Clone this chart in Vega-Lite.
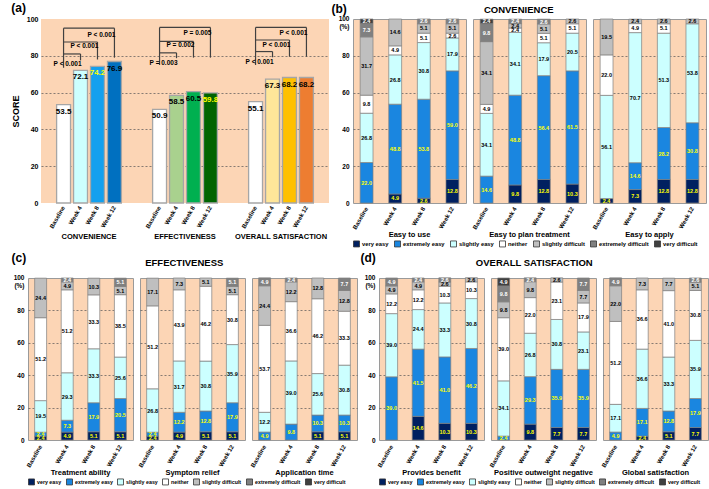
{
"$schema": "https://vega.github.io/schema/vega-lite/v6.json",
"padding": {"left": 2, "top": 2, "right": 2, "bottom": 2},
"background": "white",
"config": {
  "font": "Liberation Sans",
  "view": {"fill": "#fcd5b5", "stroke": "#9a9a9a", "strokeWidth": 1},
  "axisX": {"labelAngle": -60, "labelFontSize": 6, "labelFontWeight": "bold", "ticks": false, "domain": false, "title": null, "labelPadding": 2, "labelColor": "#000"},
  "axisY": {"ticks": false, "domain": false, "labelFontSize": 6.5, "labelFontWeight": "bold", "labelColor": "#000", "gridDash": [2, 2], "gridColor": "#555", "gridWidth": 0.7, "labelPadding": 3},
  "legend": {"orient": "bottom", "direction": "horizontal", "columns": 7, "symbolType": "square", "symbolSize": 36, "symbolStrokeColor": "#333", "symbolStrokeWidth": 0.8, "labelFontSize": 5.8, "labelFontWeight": "bold", "columnPadding": 3, "labelOffset": 2, "offset": 1, "padding": 0, "labelLimit": 0, "labelColor": "#000"}
},
"datasets": {
  "spacer": [{"z": 0}],
  "a": [
    {"k": "bar", "g": "CONVENIENCE", "w": "Baseline", "s": 53.5},
    {"k": "bar", "g": "CONVENIENCE", "w": "Week 4", "s": 72.1},
    {"k": "bar", "g": "CONVENIENCE", "w": "Week 8", "s": 74.2},
    {"k": "bar", "g": "CONVENIENCE", "w": "Week 12", "s": 76.9},
    {"k": "bar", "g": "EFFECTIVENESS", "w": "Baseline", "s": 50.9},
    {"k": "bar", "g": "EFFECTIVENESS", "w": "Week 4", "s": 58.5},
    {"k": "bar", "g": "EFFECTIVENESS", "w": "Week 8", "s": 60.5},
    {"k": "bar", "g": "EFFECTIVENESS", "w": "Week 12", "s": 59.8},
    {"k": "bar", "g": "OVERALL SATISFACTION", "w": "Baseline", "s": 55.1},
    {"k": "bar", "g": "OVERALL SATISFACTION", "w": "Week 4", "s": 67.3},
    {"k": "bar", "g": "OVERALL SATISFACTION", "w": "Week 8", "s": 68.2},
    {"k": "bar", "g": "OVERALL SATISFACTION", "w": "Week 12", "s": 68.2},
    {"k": "v", "g": "CONVENIENCE", "w": "Baseline", "s": 73.5, "s2": 95.0},
    {"k": "v", "g": "CONVENIENCE", "w": "Week 4", "s": 81.0, "s2": 77.5},
    {"k": "v", "g": "CONVENIENCE", "w": "Week 8", "s": 87.5, "s2": 78.0},
    {"k": "v", "g": "CONVENIENCE", "w": "Week 12", "s": 95.0, "s2": 79.0},
    {"k": "h", "g": "CONVENIENCE", "w": "Baseline", "w2": "Week 4", "s": 81.0},
    {"k": "h", "g": "CONVENIENCE", "w": "Baseline", "w2": "Week 8", "s": 87.5},
    {"k": "h", "g": "CONVENIENCE", "w": "Baseline", "w2": "Week 12", "s": 95.0},
    {"k": "p", "g": "CONVENIENCE", "w": "Week 4", "s": 75.5, "t": "P < 0.001"},
    {"k": "p", "g": "CONVENIENCE", "w": "Week 8", "s": 85.2, "t": "P < 0.001"},
    {"k": "p", "g": "CONVENIENCE", "w": "Week 12", "s": 91.2, "t": "P < 0.001"},
    {"k": "v", "g": "EFFECTIVENESS", "w": "Baseline", "s": 75.0, "s2": 95.4},
    {"k": "v", "g": "EFFECTIVENESS", "w": "Week 4", "s": 81.6, "s2": 78.7},
    {"k": "v", "g": "EFFECTIVENESS", "w": "Week 8", "s": 87.8, "s2": 79.0},
    {"k": "v", "g": "EFFECTIVENESS", "w": "Week 12", "s": 95.4, "s2": 79.0},
    {"k": "h", "g": "EFFECTIVENESS", "w": "Baseline", "w2": "Week 4", "s": 81.6},
    {"k": "h", "g": "EFFECTIVENESS", "w": "Baseline", "w2": "Week 8", "s": 87.8},
    {"k": "h", "g": "EFFECTIVENESS", "w": "Baseline", "w2": "Week 12", "s": 95.4},
    {"k": "p", "g": "EFFECTIVENESS", "w": "Week 4", "s": 76.2, "t": "P = 0.003"},
    {"k": "p", "g": "EFFECTIVENESS", "w": "Week 8", "s": 85.9, "t": "P = 0.002"},
    {"k": "p", "g": "EFFECTIVENESS", "w": "Week 12", "s": 92.5, "t": "P = 0.005"},
    {"k": "v", "g": "OVERALL SATISFACTION", "w": "Baseline", "s": 75.0, "s2": 95.4},
    {"k": "v", "g": "OVERALL SATISFACTION", "w": "Week 4", "s": 82.3, "s2": 79.2},
    {"k": "v", "g": "OVERALL SATISFACTION", "w": "Week 8", "s": 88.6, "s2": 79.5},
    {"k": "v", "g": "OVERALL SATISFACTION", "w": "Week 12", "s": 95.4, "s2": 79.5},
    {"k": "h", "g": "OVERALL SATISFACTION", "w": "Baseline", "w2": "Week 4", "s": 82.3},
    {"k": "h", "g": "OVERALL SATISFACTION", "w": "Baseline", "w2": "Week 8", "s": 88.6},
    {"k": "h", "g": "OVERALL SATISFACTION", "w": "Baseline", "w2": "Week 12", "s": 95.4},
    {"k": "p", "g": "OVERALL SATISFACTION", "w": "Week 4", "s": 76.7, "t": "P < 0.001"},
    {"k": "p", "g": "OVERALL SATISFACTION", "w": "Week 8", "s": 85.9, "t": "P < 0.001"},
    {"k": "p", "g": "OVERALL SATISFACTION", "w": "Week 12", "s": 92.5, "t": "P < 0.001"}
  ],
  "b": [
    {"i": "Easy to use", "w": "Baseline", "o": 2, "r": "extremely easy", "v": 22.0},
    {"i": "Easy to use", "w": "Baseline", "o": 3, "r": "slightly easy", "v": 26.8},
    {"i": "Easy to use", "w": "Baseline", "o": 4, "r": "neither", "v": 9.8},
    {"i": "Easy to use", "w": "Baseline", "o": 5, "r": "slightly difficult", "v": 31.7},
    {"i": "Easy to use", "w": "Baseline", "o": 6, "r": "extremely difficult", "v": 7.3},
    {"i": "Easy to use", "w": "Baseline", "o": 7, "r": "very difficult", "v": 2.4},
    {"i": "Easy to use", "w": "Week 4", "o": 1, "r": "very easy", "v": 4.9},
    {"i": "Easy to use", "w": "Week 4", "o": 2, "r": "extremely easy", "v": 48.8},
    {"i": "Easy to use", "w": "Week 4", "o": 3, "r": "slightly easy", "v": 26.8},
    {"i": "Easy to use", "w": "Week 4", "o": 4, "r": "neither", "v": 4.9},
    {"i": "Easy to use", "w": "Week 4", "o": 5, "r": "slightly difficult", "v": 14.6},
    {"i": "Easy to use", "w": "Week 8", "o": 1, "r": "very easy", "v": 2.6},
    {"i": "Easy to use", "w": "Week 8", "o": 2, "r": "extremely easy", "v": 53.8},
    {"i": "Easy to use", "w": "Week 8", "o": 3, "r": "slightly easy", "v": 30.8},
    {"i": "Easy to use", "w": "Week 8", "o": 4, "r": "neither", "v": 5.1},
    {"i": "Easy to use", "w": "Week 8", "o": 5, "r": "slightly difficult", "v": 5.1},
    {"i": "Easy to use", "w": "Week 8", "o": 6, "r": "extremely difficult", "v": 2.6},
    {"i": "Easy to use", "w": "Week 12", "o": 1, "r": "very easy", "v": 12.8},
    {"i": "Easy to use", "w": "Week 12", "o": 2, "r": "extremely easy", "v": 59.0},
    {"i": "Easy to use", "w": "Week 12", "o": 3, "r": "slightly easy", "v": 17.9},
    {"i": "Easy to use", "w": "Week 12", "o": 4, "r": "neither", "v": 2.6},
    {"i": "Easy to use", "w": "Week 12", "o": 5, "r": "slightly difficult", "v": 5.1},
    {"i": "Easy to use", "w": "Week 12", "o": 6, "r": "extremely difficult", "v": 2.6},
    {"i": "Easy to plan treatment", "w": "Baseline", "o": 2, "r": "extremely easy", "v": 14.6},
    {"i": "Easy to plan treatment", "w": "Baseline", "o": 3, "r": "slightly easy", "v": 34.1},
    {"i": "Easy to plan treatment", "w": "Baseline", "o": 4, "r": "neither", "v": 4.9},
    {"i": "Easy to plan treatment", "w": "Baseline", "o": 5, "r": "slightly difficult", "v": 34.1},
    {"i": "Easy to plan treatment", "w": "Baseline", "o": 6, "r": "extremely difficult", "v": 9.8},
    {"i": "Easy to plan treatment", "w": "Baseline", "o": 7, "r": "very difficult", "v": 2.4},
    {"i": "Easy to plan treatment", "w": "Week 4", "o": 1, "r": "very easy", "v": 9.8},
    {"i": "Easy to plan treatment", "w": "Week 4", "o": 2, "r": "extremely easy", "v": 48.8},
    {"i": "Easy to plan treatment", "w": "Week 4", "o": 3, "r": "slightly easy", "v": 34.1},
    {"i": "Easy to plan treatment", "w": "Week 4", "o": 4, "r": "neither", "v": 2.4},
    {"i": "Easy to plan treatment", "w": "Week 4", "o": 5, "r": "slightly difficult", "v": 2.4},
    {"i": "Easy to plan treatment", "w": "Week 4", "o": 6, "r": "extremely difficult", "v": 2.4},
    {"i": "Easy to plan treatment", "w": "Week 8", "o": 1, "r": "very easy", "v": 12.8},
    {"i": "Easy to plan treatment", "w": "Week 8", "o": 2, "r": "extremely easy", "v": 56.4},
    {"i": "Easy to plan treatment", "w": "Week 8", "o": 3, "r": "slightly easy", "v": 17.9},
    {"i": "Easy to plan treatment", "w": "Week 8", "o": 4, "r": "neither", "v": 5.1},
    {"i": "Easy to plan treatment", "w": "Week 8", "o": 5, "r": "slightly difficult", "v": 5.1},
    {"i": "Easy to plan treatment", "w": "Week 8", "o": 6, "r": "extremely difficult", "v": 2.6},
    {"i": "Easy to plan treatment", "w": "Week 12", "o": 1, "r": "very easy", "v": 10.3},
    {"i": "Easy to plan treatment", "w": "Week 12", "o": 2, "r": "extremely easy", "v": 61.5},
    {"i": "Easy to plan treatment", "w": "Week 12", "o": 3, "r": "slightly easy", "v": 20.5},
    {"i": "Easy to plan treatment", "w": "Week 12", "o": 4, "r": "neither", "v": 5.1},
    {"i": "Easy to plan treatment", "w": "Week 12", "o": 5, "r": "slightly difficult", "v": 2.6},
    {"i": "Easy to apply", "w": "Baseline", "o": 1, "r": "very easy", "v": 2.4},
    {"i": "Easy to apply", "w": "Baseline", "o": 3, "r": "slightly easy", "v": 56.1},
    {"i": "Easy to apply", "w": "Baseline", "o": 4, "r": "neither", "v": 22.0},
    {"i": "Easy to apply", "w": "Baseline", "o": 5, "r": "slightly difficult", "v": 19.5},
    {"i": "Easy to apply", "w": "Week 4", "o": 1, "r": "very easy", "v": 7.3},
    {"i": "Easy to apply", "w": "Week 4", "o": 2, "r": "extremely easy", "v": 14.6},
    {"i": "Easy to apply", "w": "Week 4", "o": 3, "r": "slightly easy", "v": 70.7},
    {"i": "Easy to apply", "w": "Week 4", "o": 4, "r": "neither", "v": 4.9},
    {"i": "Easy to apply", "w": "Week 4", "o": 5, "r": "slightly difficult", "v": 2.4},
    {"i": "Easy to apply", "w": "Week 8", "o": 1, "r": "very easy", "v": 12.8},
    {"i": "Easy to apply", "w": "Week 8", "o": 2, "r": "extremely easy", "v": 28.2},
    {"i": "Easy to apply", "w": "Week 8", "o": 3, "r": "slightly easy", "v": 51.3},
    {"i": "Easy to apply", "w": "Week 8", "o": 4, "r": "neither", "v": 5.1},
    {"i": "Easy to apply", "w": "Week 8", "o": 5, "r": "slightly difficult", "v": 2.6},
    {"i": "Easy to apply", "w": "Week 12", "o": 1, "r": "very easy", "v": 12.8},
    {"i": "Easy to apply", "w": "Week 12", "o": 2, "r": "extremely easy", "v": 30.8},
    {"i": "Easy to apply", "w": "Week 12", "o": 3, "r": "slightly easy", "v": 53.8},
    {"i": "Easy to apply", "w": "Week 12", "o": 5, "r": "slightly difficult", "v": 2.6}
  ],
  "c": [
    {"i": "Treatment ability", "w": "Baseline", "o": 1, "r": "very easy", "v": 2.4},
    {"i": "Treatment ability", "w": "Baseline", "o": 2, "r": "extremely easy", "v": 2.4},
    {"i": "Treatment ability", "w": "Baseline", "o": 3, "r": "slightly easy", "v": 19.5},
    {"i": "Treatment ability", "w": "Baseline", "o": 4, "r": "neither", "v": 51.2},
    {"i": "Treatment ability", "w": "Baseline", "o": 5, "r": "slightly difficult", "v": 24.4},
    {"i": "Treatment ability", "w": "Week 4", "o": 1, "r": "very easy", "v": 4.9},
    {"i": "Treatment ability", "w": "Week 4", "o": 2, "r": "extremely easy", "v": 7.3},
    {"i": "Treatment ability", "w": "Week 4", "o": 3, "r": "slightly easy", "v": 29.3},
    {"i": "Treatment ability", "w": "Week 4", "o": 4, "r": "neither", "v": 51.2},
    {"i": "Treatment ability", "w": "Week 4", "o": 5, "r": "slightly difficult", "v": 4.9},
    {"i": "Treatment ability", "w": "Week 4", "o": 6, "r": "extremely difficult", "v": 2.4},
    {"i": "Treatment ability", "w": "Week 8", "o": 1, "r": "very easy", "v": 5.1},
    {"i": "Treatment ability", "w": "Week 8", "o": 2, "r": "extremely easy", "v": 17.9},
    {"i": "Treatment ability", "w": "Week 8", "o": 3, "r": "slightly easy", "v": 33.3},
    {"i": "Treatment ability", "w": "Week 8", "o": 4, "r": "neither", "v": 33.3},
    {"i": "Treatment ability", "w": "Week 8", "o": 5, "r": "slightly difficult", "v": 10.3},
    {"i": "Treatment ability", "w": "Week 12", "o": 1, "r": "very easy", "v": 5.1},
    {"i": "Treatment ability", "w": "Week 12", "o": 2, "r": "extremely easy", "v": 20.5},
    {"i": "Treatment ability", "w": "Week 12", "o": 3, "r": "slightly easy", "v": 25.6},
    {"i": "Treatment ability", "w": "Week 12", "o": 4, "r": "neither", "v": 38.5},
    {"i": "Treatment ability", "w": "Week 12", "o": 5, "r": "slightly difficult", "v": 5.1},
    {"i": "Treatment ability", "w": "Week 12", "o": 6, "r": "extremely difficult", "v": 5.1},
    {"i": "Symptom relief", "w": "Baseline", "o": 1, "r": "very easy", "v": 2.4},
    {"i": "Symptom relief", "w": "Baseline", "o": 2, "r": "extremely easy", "v": 2.4},
    {"i": "Symptom relief", "w": "Baseline", "o": 3, "r": "slightly easy", "v": 26.8},
    {"i": "Symptom relief", "w": "Baseline", "o": 4, "r": "neither", "v": 51.2},
    {"i": "Symptom relief", "w": "Baseline", "o": 5, "r": "slightly difficult", "v": 17.1},
    {"i": "Symptom relief", "w": "Week 4", "o": 1, "r": "very easy", "v": 4.9},
    {"i": "Symptom relief", "w": "Week 4", "o": 2, "r": "extremely easy", "v": 12.2},
    {"i": "Symptom relief", "w": "Week 4", "o": 3, "r": "slightly easy", "v": 31.7},
    {"i": "Symptom relief", "w": "Week 4", "o": 4, "r": "neither", "v": 43.9},
    {"i": "Symptom relief", "w": "Week 4", "o": 5, "r": "slightly difficult", "v": 7.3},
    {"i": "Symptom relief", "w": "Week 8", "o": 1, "r": "very easy", "v": 5.1},
    {"i": "Symptom relief", "w": "Week 8", "o": 2, "r": "extremely easy", "v": 12.8},
    {"i": "Symptom relief", "w": "Week 8", "o": 3, "r": "slightly easy", "v": 30.8},
    {"i": "Symptom relief", "w": "Week 8", "o": 4, "r": "neither", "v": 46.2},
    {"i": "Symptom relief", "w": "Week 8", "o": 5, "r": "slightly difficult", "v": 5.1},
    {"i": "Symptom relief", "w": "Week 12", "o": 1, "r": "very easy", "v": 5.1},
    {"i": "Symptom relief", "w": "Week 12", "o": 2, "r": "extremely easy", "v": 17.9},
    {"i": "Symptom relief", "w": "Week 12", "o": 3, "r": "slightly easy", "v": 35.9},
    {"i": "Symptom relief", "w": "Week 12", "o": 4, "r": "neither", "v": 30.8},
    {"i": "Symptom relief", "w": "Week 12", "o": 5, "r": "slightly difficult", "v": 5.1},
    {"i": "Symptom relief", "w": "Week 12", "o": 6, "r": "extremely difficult", "v": 5.1},
    {"i": "Application time", "w": "Baseline", "o": 2, "r": "extremely easy", "v": 4.9},
    {"i": "Application time", "w": "Baseline", "o": 3, "r": "slightly easy", "v": 12.2},
    {"i": "Application time", "w": "Baseline", "o": 4, "r": "neither", "v": 53.7},
    {"i": "Application time", "w": "Baseline", "o": 5, "r": "slightly difficult", "v": 24.4},
    {"i": "Application time", "w": "Baseline", "o": 6, "r": "extremely difficult", "v": 4.9},
    {"i": "Application time", "w": "Week 4", "o": 2, "r": "extremely easy", "v": 9.8},
    {"i": "Application time", "w": "Week 4", "o": 3, "r": "slightly easy", "v": 39.0},
    {"i": "Application time", "w": "Week 4", "o": 4, "r": "neither", "v": 36.6},
    {"i": "Application time", "w": "Week 4", "o": 5, "r": "slightly difficult", "v": 12.2},
    {"i": "Application time", "w": "Week 4", "o": 6, "r": "extremely difficult", "v": 2.4},
    {"i": "Application time", "w": "Week 8", "o": 1, "r": "very easy", "v": 5.1},
    {"i": "Application time", "w": "Week 8", "o": 2, "r": "extremely easy", "v": 10.3},
    {"i": "Application time", "w": "Week 8", "o": 3, "r": "slightly easy", "v": 25.6},
    {"i": "Application time", "w": "Week 8", "o": 4, "r": "neither", "v": 46.2},
    {"i": "Application time", "w": "Week 8", "o": 5, "r": "slightly difficult", "v": 12.8},
    {"i": "Application time", "w": "Week 12", "o": 1, "r": "very easy", "v": 5.1},
    {"i": "Application time", "w": "Week 12", "o": 2, "r": "extremely easy", "v": 10.3},
    {"i": "Application time", "w": "Week 12", "o": 3, "r": "slightly easy", "v": 30.8},
    {"i": "Application time", "w": "Week 12", "o": 4, "r": "neither", "v": 33.3},
    {"i": "Application time", "w": "Week 12", "o": 5, "r": "slightly difficult", "v": 12.8},
    {"i": "Application time", "w": "Week 12", "o": 6, "r": "extremely difficult", "v": 7.7}
  ],
  "d": [
    {"i": "Provides benefit", "w": "Baseline", "o": 2, "r": "extremely easy", "v": 39.0},
    {"i": "Provides benefit", "w": "Baseline", "o": 3, "r": "slightly easy", "v": 39.0},
    {"i": "Provides benefit", "w": "Baseline", "o": 4, "r": "neither", "v": 12.2},
    {"i": "Provides benefit", "w": "Baseline", "o": 5, "r": "slightly difficult", "v": 4.9},
    {"i": "Provides benefit", "w": "Baseline", "o": 6, "r": "extremely difficult", "v": 4.9},
    {"i": "Provides benefit", "w": "Week 4", "o": 1, "r": "very easy", "v": 14.6},
    {"i": "Provides benefit", "w": "Week 4", "o": 2, "r": "extremely easy", "v": 41.5},
    {"i": "Provides benefit", "w": "Week 4", "o": 3, "r": "slightly easy", "v": 24.4},
    {"i": "Provides benefit", "w": "Week 4", "o": 4, "r": "neither", "v": 12.2},
    {"i": "Provides benefit", "w": "Week 4", "o": 5, "r": "slightly difficult", "v": 4.9},
    {"i": "Provides benefit", "w": "Week 4", "o": 6, "r": "extremely difficult", "v": 2.4},
    {"i": "Provides benefit", "w": "Week 8", "o": 1, "r": "very easy", "v": 10.3},
    {"i": "Provides benefit", "w": "Week 8", "o": 2, "r": "extremely easy", "v": 41.0},
    {"i": "Provides benefit", "w": "Week 8", "o": 3, "r": "slightly easy", "v": 33.3},
    {"i": "Provides benefit", "w": "Week 8", "o": 4, "r": "neither", "v": 10.3},
    {"i": "Provides benefit", "w": "Week 8", "o": 5, "r": "slightly difficult", "v": 2.6},
    {"i": "Provides benefit", "w": "Week 8", "o": 6, "r": "extremely difficult", "v": 2.6},
    {"i": "Provides benefit", "w": "Week 12", "o": 1, "r": "very easy", "v": 10.3},
    {"i": "Provides benefit", "w": "Week 12", "o": 2, "r": "extremely easy", "v": 46.2},
    {"i": "Provides benefit", "w": "Week 12", "o": 3, "r": "slightly easy", "v": 30.8},
    {"i": "Provides benefit", "w": "Week 12", "o": 4, "r": "neither", "v": 10.3},
    {"i": "Provides benefit", "w": "Week 12", "o": 5, "r": "slightly difficult", "v": 2.6},
    {"i": "Positive outweight negative", "w": "Baseline", "o": 2, "r": "extremely easy", "v": 2.4},
    {"i": "Positive outweight negative", "w": "Baseline", "o": 3, "r": "slightly easy", "v": 34.1},
    {"i": "Positive outweight negative", "w": "Baseline", "o": 4, "r": "neither", "v": 39.0},
    {"i": "Positive outweight negative", "w": "Baseline", "o": 5, "r": "slightly difficult", "v": 9.8},
    {"i": "Positive outweight negative", "w": "Baseline", "o": 6, "r": "extremely difficult", "v": 9.8},
    {"i": "Positive outweight negative", "w": "Baseline", "o": 7, "r": "very difficult", "v": 4.9},
    {"i": "Positive outweight negative", "w": "Week 4", "o": 1, "r": "very easy", "v": 9.8},
    {"i": "Positive outweight negative", "w": "Week 4", "o": 2, "r": "extremely easy", "v": 29.3},
    {"i": "Positive outweight negative", "w": "Week 4", "o": 3, "r": "slightly easy", "v": 26.8},
    {"i": "Positive outweight negative", "w": "Week 4", "o": 4, "r": "neither", "v": 22.0},
    {"i": "Positive outweight negative", "w": "Week 4", "o": 5, "r": "slightly difficult", "v": 9.8},
    {"i": "Positive outweight negative", "w": "Week 4", "o": 6, "r": "extremely difficult", "v": 2.4},
    {"i": "Positive outweight negative", "w": "Week 8", "o": 1, "r": "very easy", "v": 7.7},
    {"i": "Positive outweight negative", "w": "Week 8", "o": 2, "r": "extremely easy", "v": 35.9},
    {"i": "Positive outweight negative", "w": "Week 8", "o": 3, "r": "slightly easy", "v": 30.8},
    {"i": "Positive outweight negative", "w": "Week 8", "o": 4, "r": "neither", "v": 23.1},
    {"i": "Positive outweight negative", "w": "Week 8", "o": 5, "r": "slightly difficult", "v": 2.6},
    {"i": "Positive outweight negative", "w": "Week 12", "o": 1, "r": "very easy", "v": 7.7},
    {"i": "Positive outweight negative", "w": "Week 12", "o": 2, "r": "extremely easy", "v": 35.9},
    {"i": "Positive outweight negative", "w": "Week 12", "o": 3, "r": "slightly easy", "v": 23.1},
    {"i": "Positive outweight negative", "w": "Week 12", "o": 4, "r": "neither", "v": 17.9},
    {"i": "Positive outweight negative", "w": "Week 12", "o": 5, "r": "slightly difficult", "v": 7.7},
    {"i": "Positive outweight negative", "w": "Week 12", "o": 6, "r": "extremely difficult", "v": 7.7},
    {"i": "Global satisfaction", "w": "Baseline", "o": 2, "r": "extremely easy", "v": 4.9},
    {"i": "Global satisfaction", "w": "Baseline", "o": 3, "r": "slightly easy", "v": 17.1},
    {"i": "Global satisfaction", "w": "Baseline", "o": 4, "r": "neither", "v": 51.2},
    {"i": "Global satisfaction", "w": "Baseline", "o": 5, "r": "slightly difficult", "v": 22.0},
    {"i": "Global satisfaction", "w": "Baseline", "o": 6, "r": "extremely difficult", "v": 4.9},
    {"i": "Global satisfaction", "w": "Week 4", "o": 1, "r": "very easy", "v": 2.4},
    {"i": "Global satisfaction", "w": "Week 4", "o": 2, "r": "extremely easy", "v": 17.1},
    {"i": "Global satisfaction", "w": "Week 4", "o": 3, "r": "slightly easy", "v": 36.6},
    {"i": "Global satisfaction", "w": "Week 4", "o": 4, "r": "neither", "v": 36.6},
    {"i": "Global satisfaction", "w": "Week 4", "o": 5, "r": "slightly difficult", "v": 7.3},
    {"i": "Global satisfaction", "w": "Week 8", "o": 1, "r": "very easy", "v": 5.1},
    {"i": "Global satisfaction", "w": "Week 8", "o": 2, "r": "extremely easy", "v": 12.8},
    {"i": "Global satisfaction", "w": "Week 8", "o": 3, "r": "slightly easy", "v": 33.3},
    {"i": "Global satisfaction", "w": "Week 8", "o": 4, "r": "neither", "v": 41.0},
    {"i": "Global satisfaction", "w": "Week 8", "o": 5, "r": "slightly difficult", "v": 7.7},
    {"i": "Global satisfaction", "w": "Week 12", "o": 1, "r": "very easy", "v": 7.7},
    {"i": "Global satisfaction", "w": "Week 12", "o": 2, "r": "extremely easy", "v": 17.9},
    {"i": "Global satisfaction", "w": "Week 12", "o": 3, "r": "slightly easy", "v": 35.9},
    {"i": "Global satisfaction", "w": "Week 12", "o": 4, "r": "neither", "v": 30.8},
    {"i": "Global satisfaction", "w": "Week 12", "o": 5, "r": "slightly difficult", "v": 5.1},
    {"i": "Global satisfaction", "w": "Week 12", "o": 6, "r": "extremely difficult", "v": 2.6}
  ]
},
"spacing": 2,
"resolve": {"scale": {"fill": "independent"}, "legend": {"fill": "independent"}},
"vconcat": [
 {
  "spacing": 2,
  "resolve": {"scale": {"fill": "independent"}, "legend": {"fill": "independent"}},
  "hconcat": [
   {
    "data": {"name": "spacer"},
    "width": 1, "height": 1,
    "view": {"stroke": null, "fill": "white"},
    "mark": {"type": "point", "opacity": 0},
    "encoding": {}
   },
   {
    "data": {"name": "a"},
    "title": {"text": "(a)", "anchor": "start", "frame": "bounds", "fontSize": 12, "fontWeight": "bold", "offset": 0},
    "facet": {"column": {"field": "g", "type": "nominal", "sort": ["CONVENIENCE", "EFFECTIVENESS", "OVERALL SATISFACTION"], "header": {"title": null, "labelOrient": "bottom", "labelFontSize": 7.5, "labelFontWeight": "bold", "labelPadding": 4}}},
    "spacing": 0,
    "spec": {
      "width": 96, "height": 184,
      "view": {"stroke": null},
      "encoding": {
        "y": {"field": "s", "type": "quantitative", "scale": {"domain": [0, 100], "nice": false}, "axis": {"title": "SCORE", "titleFontSize": 9, "titleFontWeight": "bold", "labelFontSize": 7, "values": [0, 20, 40, 60, 80, 100], "titlePadding": 6, "gridOpacity": {"condition": {"test": "datum.value == 0 || datum.value == 100", "value": 0}, "value": 1}}}
      },
      "layer": [
        {"transform": [{"filter": "datum.k == 'bar'"}],
         "mark": {"type": "bar", "stroke": "#a6a6a6", "strokeWidth": 1.3},
         "encoding": {
           "x": {"field": "w", "type": "nominal", "scale": {"domain": ["Baseline", "Week 4", "Week 8", "Week 12"], "paddingInner": 0.18, "paddingOuter": 0.92}},
           "fill": {"condition": [
             {"test": "datum.w == 'Baseline'", "value": "#ffffff"},
             {"test": "datum.g == 'CONVENIENCE' && datum.w == 'Week 4'", "value": "#ccffff"},
             {"test": "datum.g == 'CONVENIENCE' && datum.w == 'Week 8'", "value": "#14a0ee"},
             {"test": "datum.g == 'CONVENIENCE' && datum.w == 'Week 12'", "value": "#0070c0"},
             {"test": "datum.g == 'EFFECTIVENESS' && datum.w == 'Week 4'", "value": "#a9d18e"},
             {"test": "datum.g == 'EFFECTIVENESS' && datum.w == 'Week 8'", "value": "#00b050"},
             {"test": "datum.g == 'EFFECTIVENESS' && datum.w == 'Week 12'", "value": "#006400"},
             {"test": "datum.g == 'OVERALL SATISFACTION' && datum.w == 'Week 4'", "value": "#ffe699"},
             {"test": "datum.g == 'OVERALL SATISFACTION' && datum.w == 'Week 8'", "value": "#ffc000"}
           ], "value": "#ed7d31"}
         }},
        {"transform": [{"filter": "datum.k == 'bar'"}],
         "mark": {"type": "text", "baseline": "top", "dy": 3, "fontSize": 8, "fontWeight": "bold"},
         "encoding": {
           "x": {"field": "w", "type": "nominal", "scale": {"domain": ["Baseline", "Week 4", "Week 8", "Week 12"]}},
           "text": {"field": "s", "type": "quantitative", "format": ".1f"},
           "color": {"condition": {"test": "(datum.g == 'CONVENIENCE' && datum.w == 'Week 8') || (datum.g == 'EFFECTIVENESS' && datum.w == 'Week 12')", "value": "#ffff00"}, "value": "#000000"}
         }},
        {"transform": [{"filter": "datum.k == 'v'"}],
         "mark": {"type": "rule", "color": "#404040", "strokeWidth": 1.2},
         "encoding": {
           "x": {"field": "w", "type": "nominal", "bandPosition": 0.5, "scale": {"domain": ["Baseline", "Week 4", "Week 8", "Week 12"]}},
           "y2": {"field": "s2"}
         }},
        {"transform": [{"filter": "datum.k == 'h'"}],
         "mark": {"type": "rule", "color": "#404040", "strokeWidth": 1.2},
         "encoding": {
           "x": {"field": "w", "type": "nominal", "bandPosition": 0.5, "scale": {"domain": ["Baseline", "Week 4", "Week 8", "Week 12"]}},
           "x2": {"field": "w2", "bandPosition": 0.5}
         }},
        {"transform": [{"filter": "datum.k == 'p'"}],
         "mark": {"type": "text", "align": "right", "baseline": "middle", "dx": 1, "fontSize": 6.5, "fontWeight": "bold"},
         "encoding": {
           "x": {"field": "w", "type": "nominal", "bandPosition": 0.5, "scale": {"domain": ["Baseline", "Week 4", "Week 8", "Week 12"]}},
           "text": {"field": "t"}
         }}
      ]
    }
   },
   {
    "data": {"name": "b"},
    "title": {"text": "CONVENIENCE", "anchor": "middle", "fontSize": 9.5, "fontWeight": "bold", "offset": -12},
    "facet": {"column": {"field": "i", "type": "nominal", "sort": ["Easy to use", "Easy to plan treatment", "Easy to apply"], "header": {"title": null, "labelOrient": "bottom", "labelFontSize": 7.5, "labelFontWeight": "bold", "labelPadding": 1}}},
    "spacing": 5,
    "spec": {
      "width": 113, "height": 184,
      "encoding": {
        "x": {"field": "w", "type": "nominal", "scale": {"domain": ["Baseline", "Week 4", "Week 8", "Week 12"], "paddingInner": 0.55, "paddingOuter": 0.25}},
        "y": {"field": "v", "type": "quantitative", "stack": "zero", "scale": {"domain": [0, 100], "nice": false}, "axis": {"title": "(b)", "titleAngle": 0, "titleAlign": "left", "titleBaseline": "bottom", "titleX": -21, "titleY": -4, "titleFontSize": 12, "titleFontWeight": "bold", "titleColor": "#000", "values": [0, 20, 40, 60, 80, 100], "labelExpr": "datum.value == 100 ? ['100', '(%)'] : datum.label", "labelBaseline": {"condition": {"test": "datum.value == 100", "value": "top"}, "value": "middle"}, "labelOffset": {"condition": {"test": "datum.value == 100", "value": -4}, "value": 0}, "gridOpacity": {"condition": {"test": "datum.value == 0 || datum.value == 100", "value": 0}, "value": 1}}},
        "order": {"field": "o", "type": "quantitative"}
      },
      "layer": [
        {"mark": {"type": "bar", "stroke": "#808080", "strokeWidth": 0.7},
         "encoding": {"fill": {"field": "r", "type": "nominal", "scale": {"domain": ["very easy", "extremely easy", "slightly easy", "neither", "slightly difficult", "extremely difficult", "very difficult"], "range": ["#002060", "#1a86e0", "#ccffff", "#ffffff", "#bfbfbf", "#808080", "#404040"]}, "legend": {"title": null}}}},
        {"mark": {"type": "text", "fontSize": 5.5, "fontWeight": "bold"},
         "encoding": {
           "y": {"field": "v", "type": "quantitative", "stack": "zero", "bandPosition": 0.5},
           "detail": {"field": "r"},
           "text": {"field": "v", "type": "quantitative", "format": ".1f"},
           "color": {"condition": [{"test": "datum.o <= 2", "value": "#ffff00"}, {"test": "datum.o >= 6", "value": "#ffffff"}], "value": "#000000"}
         }}
      ]
    }
   }
  ]
 },
 {
  "spacing": 2,
  "resolve": {"scale": {"fill": "independent"}, "legend": {"fill": "independent"}},
  "hconcat": [
   {
    "data": {"name": "spacer"},
    "width": 1, "height": 1,
    "view": {"stroke": null, "fill": "white"},
    "mark": {"type": "point", "opacity": 0},
    "encoding": {}
   },
   {
    "data": {"name": "c"},
    "title": {"text": "EFFECTIVENESS", "anchor": "middle", "fontSize": 9.5, "fontWeight": "bold", "offset": -16},
    "facet": {"column": {"field": "i", "type": "nominal", "sort": ["Treatment ability", "Symptom relief", "Application time"], "header": {"title": null, "labelOrient": "bottom", "labelFontSize": 7.5, "labelFontWeight": "bold", "labelPadding": 1}}},
    "spacing": 5,
    "spec": {
      "width": 105, "height": 162,
      "encoding": {
        "x": {"field": "w", "type": "nominal", "scale": {"domain": ["Baseline", "Week 4", "Week 8", "Week 12"], "paddingInner": 0.55, "paddingOuter": 0.25}},
        "y": {"field": "v", "type": "quantitative", "stack": "zero", "scale": {"domain": [0, 100], "nice": false}, "axis": {"title": "(c)", "titleAngle": 0, "titleAlign": "left", "titleBaseline": "bottom", "titleX": -16, "titleY": -14, "titleFontSize": 12, "titleFontWeight": "bold", "titleColor": "#000", "values": [0, 20, 40, 60, 80, 100], "labelExpr": "datum.value == 100 ? ['100', '(%)'] : datum.label", "labelBaseline": {"condition": {"test": "datum.value == 100", "value": "top"}, "value": "middle"}, "labelOffset": {"condition": {"test": "datum.value == 100", "value": -4}, "value": 0}, "gridOpacity": {"condition": {"test": "datum.value == 0 || datum.value == 100", "value": 0}, "value": 1}}},
        "order": {"field": "o", "type": "quantitative"}
      },
      "layer": [
        {"mark": {"type": "bar", "stroke": "#808080", "strokeWidth": 0.7},
         "encoding": {"fill": {"field": "r", "type": "nominal", "scale": {"domain": ["very easy", "extremely easy", "slightly easy", "neither", "slightly difficult", "extremely difficult", "very difficult"], "range": ["#002060", "#1a86e0", "#ccffff", "#ffffff", "#bfbfbf", "#808080", "#404040"]}, "legend": {"title": null, "labelFontSize": 5.3, "columnPadding": 2}}}},
        {"mark": {"type": "text", "fontSize": 5.5, "fontWeight": "bold"},
         "encoding": {
           "y": {"field": "v", "type": "quantitative", "stack": "zero", "bandPosition": 0.5},
           "detail": {"field": "r"},
           "text": {"field": "v", "type": "quantitative", "format": ".1f"},
           "color": {"condition": [{"test": "datum.o <= 2", "value": "#ffff00"}, {"test": "datum.o >= 6", "value": "#ffffff"}], "value": "#000000"}
         }}
      ]
    }
   },
   {
    "data": {"name": "d"},
    "title": {"text": "OVERALL SATISFACTION", "anchor": "middle", "fontSize": 9.5, "fontWeight": "bold", "offset": -16},
    "facet": {"column": {"field": "i", "type": "nominal", "sort": ["Provides benefit", "Positive outweight negative", "Global satisfaction"], "header": {"title": null, "labelOrient": "bottom", "labelFontSize": 7.5, "labelFontWeight": "bold", "labelPadding": 1}}},
    "spacing": 5,
    "spec": {
      "width": 105, "height": 162,
      "encoding": {
        "x": {"field": "w", "type": "nominal", "scale": {"domain": ["Baseline", "Week 4", "Week 8", "Week 12"], "paddingInner": 0.55, "paddingOuter": 0.25}},
        "y": {"field": "v", "type": "quantitative", "stack": "zero", "scale": {"domain": [0, 100], "nice": false}, "axis": {"title": "(d)", "titleAngle": 0, "titleAlign": "left", "titleBaseline": "bottom", "titleX": -18, "titleY": -14, "titleFontSize": 12, "titleFontWeight": "bold", "titleColor": "#000", "values": [0, 20, 40, 60, 80, 100], "labelExpr": "datum.value == 100 ? ['100', '(%)'] : datum.label", "labelBaseline": {"condition": {"test": "datum.value == 100", "value": "top"}, "value": "middle"}, "labelOffset": {"condition": {"test": "datum.value == 100", "value": -4}, "value": 0}, "gridOpacity": {"condition": {"test": "datum.value == 0 || datum.value == 100", "value": 0}, "value": 1}}},
        "order": {"field": "o", "type": "quantitative"}
      },
      "layer": [
        {"mark": {"type": "bar", "stroke": "#808080", "strokeWidth": 0.7},
         "encoding": {"fill": {"field": "r", "type": "nominal", "scale": {"domain": ["very easy", "extremely easy", "slightly easy", "neither", "slightly difficult", "extremely difficult", "very difficult"], "range": ["#002060", "#1a86e0", "#ccffff", "#ffffff", "#bfbfbf", "#808080", "#404040"]}, "legend": {"title": null, "labelFontSize": 5.4, "columnPadding": 2}}}},
        {"mark": {"type": "text", "fontSize": 5.5, "fontWeight": "bold"},
         "encoding": {
           "y": {"field": "v", "type": "quantitative", "stack": "zero", "bandPosition": 0.5},
           "detail": {"field": "r"},
           "text": {"field": "v", "type": "quantitative", "format": ".1f"},
           "color": {"condition": [{"test": "datum.o <= 2", "value": "#ffff00"}, {"test": "datum.o >= 6", "value": "#ffffff"}], "value": "#000000"}
         }}
      ]
    }
   }
  ]
 }
]
}
